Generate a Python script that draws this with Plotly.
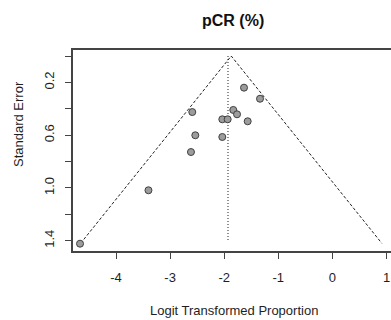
import plotly.graph_objects as go

# Study estimates (logit transformed proportion) and standard errors
logit_prop = [-4.665, -3.40, -2.614, -2.534, -2.59, -2.035, -2.035, -1.936,
              -1.832, -1.763, -1.566, -1.634, -1.338]
std_err = [1.423, 1.018, 0.728, 0.601, 0.425, 0.614, 0.48, 0.48,
           0.409, 0.442, 0.495, 0.240, 0.324]

funnel_center = -1.87     # apex of pseudo confidence funnel
ref_line = -1.93          # vertical reference (pooled estimate)
se_max = 1.42
z = 1.96

x_ticks = [-4, -3, -2, -1, 0, 1]
y_ticks = [0.0, 0.2, 0.4, 0.6, 0.8, 1.0, 1.2, 1.4]
y_ticktext = ["", "0.2", "", "0.6", "", "1.0", "", "1.4"]

W, H = 391, 320
L, R, T, B = 73, 0, 50, 69
pw, ph = W - L - R, H - T - B

fig = go.Figure()

# funnel (dashed)
fig.add_trace(go.Scatter(
    x=[funnel_center - z * se_max, funnel_center, funnel_center + z * se_max],
    y=[se_max, 0, se_max],
    mode="lines", line=dict(color="#222222", width=1, dash="3px,2px"),
    hoverinfo="skip", showlegend=False))

# vertical reference line (dotted)
fig.add_trace(go.Scatter(
    x=[ref_line, ref_line], y=[0, 1.40],
    mode="lines", line=dict(color="#222222", width=1, dash="1px,2px"),
    hoverinfo="skip", showlegend=False))

# studies
fig.add_trace(go.Scatter(
    x=logit_prop, y=std_err, mode="markers",
    marker=dict(size=7, color="#9c9c9c", line=dict(color="#404040", width=1)),
    showlegend=False))

fnt = dict(family="Liberation Sans, Arial, sans-serif", size=13, color="#1e1e1e")

fig.update_layout(
    width=W, height=H,
    margin=dict(l=L, r=R, t=T, b=B, pad=0),
    paper_bgcolor="white", plot_bgcolor="white",
    font=fnt,
    xaxis=dict(range=[-4 - (116 - 73) / 54.1, -4 + (391 - 116) / 54.1],
               tickvals=x_ticks, ticktext=[str(v) for v in x_ticks],
               showgrid=False, zeroline=False,
               showline=True, mirror=True, linecolor="#444444", linewidth=1.5,
               ticks="outside", ticklen=6, tickcolor="#444444", tickwidth=1,
               ticklabelstandoff=8, tickfont=fnt),
    yaxis=dict(range=[(251 - 56) / 131.9, -(56 - 50) / 131.9],
               tickvals=y_ticks, ticktext=y_ticktext,
               showgrid=False, zeroline=False,
               showline=True, mirror=False, linecolor="#444444", linewidth=1.5,
               ticks="outside", ticklen=6, tickcolor="#444444", tickwidth=1,
               tickangle=-90, ticklabelstandoff=6, tickfont=fnt),
    annotations=[
        dict(text="<b>pCR (%)</b>", x=(233 - L) / pw, y=1 + (T - 20) / ph,
             xref="paper", yref="paper", xanchor="center", yanchor="middle",
             showarrow=False,
             font=dict(family="Liberation Sans, Arial, sans-serif", size=16, color="#111111")),
        dict(text="Logit Transformed Proportion", x=(234 - L) / pw, y=-(310 - (T + ph)) / ph,
             xref="paper", yref="paper", xanchor="center", yanchor="middle",
             showarrow=False, font=fnt),
        dict(text="Standard Error", x=(18 - L) / pw, y=((T + ph) - 124) / ph,
             xref="paper", yref="paper", xanchor="center", yanchor="middle",
             textangle=-90, showarrow=False, font=fnt),
    ],
)

fig.write_html("out.html")
